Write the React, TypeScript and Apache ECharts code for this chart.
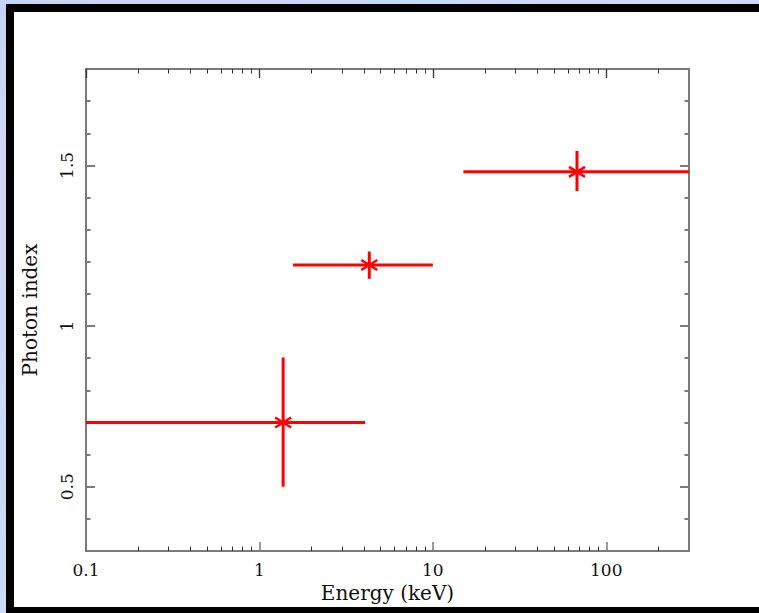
import React, { useEffect, useRef } from "react";
import * as echarts from "echarts";

// ---- data ----
const energy = [1.37, 4.3, 67.8];
const energyLow = [0.1, 1.56, 15];
const energyHigh = [4.07, 10, 300];
const photonIndex = [0.7, 1.19, 1.48];
const indexLow = [0.5, 1.147, 1.42];
const indexHigh = [0.902, 1.232, 1.545];

const xMajorTicks = [0.1, 1, 10, 100];
const xMinorTicks = [0.2, 0.3, 0.4, 0.5, 0.6, 0.7, 0.8, 0.9, 2, 3, 4, 5, 6, 7, 8, 9, 20, 30, 40, 50, 60, 70, 80, 90, 200];
const yMajorTicks = [0.5, 1, 1.5];
const yMinorTicks = [0.4, 0.6, 0.7, 0.8, 0.9, 1.1, 1.2, 1.3, 1.4, 1.6, 1.7];

const FONT = "DejaVu Serif";
const AXIS_COLOR = "#7a7a7a";
const RED = "#ff0000";

export default function App() {
  const ref = useRef<HTMLDivElement>(null);

  useEffect(() => {
    if (!ref.current) return;
    const chart = echarts.init(ref.current, null, { renderer: "svg" });

    const data = energy.map((e, i) => [e, photonIndex[i], energyLow[i], energyHigh[i], indexLow[i], indexHigh[i]]);

    const xBase = {
      type: "log" as const,
      logBase: 10,
      min: 0.1,
      max: 300,
      splitLine: { show: false },
      axisLine: { show: true, lineStyle: { color: AXIS_COLOR, width: 2 } },
    };
    const yBase = {
      type: "value" as const,
      min: 0.3,
      max: 1.8,
      splitLine: { show: false },
      axisLine: { show: true, lineStyle: { color: AXIS_COLOR, width: 2 } },
    };
    const noLabel = { show: false };

    const option: any = {
      animation: false,
      backgroundColor: "transparent",
      grid: { left: 86, top: 69, right: 70, bottom: 62, containLabel: false, outerBoundsMode: "none" },
      xAxis: [
        {
          ...xBase,
          position: "bottom",
          name: "Energy (keV)",
          nameLocation: "middle",
          nameGap: 31,
          nameTextStyle: { fontFamily: FONT, fontSize: 20, color: "#111" },
          axisTick: { show: true, inside: true, length: 9, customValues: xMajorTicks, lineStyle: { color: AXIS_COLOR, width: 1.5 } },
          axisLabel: {
            show: true,
            customValues: xMajorTicks,
            margin: 10,
            fontFamily: FONT,
            fontSize: 17,
            color: "#111",
            formatter: (v: number) => String(Math.round(v * 10) / 10),
          },
        },
        {
          ...xBase,
          position: "bottom",
          axisLine: { show: false },
          axisTick: { show: true, inside: true, length: 4.5, customValues: xMinorTicks, lineStyle: { color: "#333", width: 1 } },
          axisLabel: noLabel,
        },
        {
          ...xBase,
          position: "top",
          axisTick: { show: true, inside: true, length: 9, customValues: xMajorTicks, lineStyle: { color: "#333", width: 1.3 } },
          axisLabel: noLabel,
        },
        {
          ...xBase,
          position: "top",
          axisLine: { show: false },
          axisTick: { show: true, inside: true, length: 4.5, customValues: xMinorTicks, lineStyle: { color: "#333", width: 1 } },
          axisLabel: noLabel,
        },
      ],
      yAxis: [
        {
          ...yBase,
          position: "left",
          name: "Photon index",
          nameLocation: "middle",
          nameGap: 46,
          nameRotate: 90,
          nameTextStyle: { fontFamily: FONT, fontSize: 20, color: "#111" },
          axisTick: { show: true, inside: true, length: 9, customValues: yMajorTicks, lineStyle: { color: AXIS_COLOR, width: 2 } },
          axisLabel: {
            show: true,
            customValues: yMajorTicks,
            rotate: 90,
            margin: 11,
            fontFamily: FONT,
            fontSize: 17,
            color: "#111",
            formatter: (v: number) => String(v),
          },
        },
        {
          ...yBase,
          position: "left",
          axisLine: { show: false },
          axisTick: { show: true, inside: true, length: 4.5, customValues: yMinorTicks, lineStyle: { color: AXIS_COLOR, width: 2 } },
          axisLabel: noLabel,
        },
        {
          ...yBase,
          position: "right",
          axisTick: { show: true, inside: true, length: 9, customValues: yMajorTicks, lineStyle: { color: AXIS_COLOR, width: 2 } },
          axisLabel: noLabel,
        },
        {
          ...yBase,
          position: "right",
          axisLine: { show: false },
          axisTick: { show: true, inside: true, length: 4.5, customValues: yMinorTicks, lineStyle: { color: AXIS_COLOR, width: 2 } },
          axisLabel: noLabel,
        },
      ],
      series: [
        {
          type: "custom",
          xAxisIndex: 0,
          yAxisIndex: 0,
          clip: true,
          encode: { x: [0, 2, 3], y: [1, 4, 5] },
          data,
          renderItem: (params: any, api: any) => {
            const x = api.value(0);
            const y = api.value(1);
            const c = api.coord([x, y]);
            const l = api.coord([api.value(2), y]);
            const r = api.coord([api.value(3), y]);
            const b = api.coord([x, api.value(4)]);
            const t = api.coord([x, api.value(5)]);
            const ls = { stroke: RED, lineWidth: 3 };
            const ms = { stroke: RED, lineWidth: 2.5 };
            const dx = 8;
            const dy = 5;
            return {
              type: "group",
              children: [
                { type: "line", shape: { x1: l[0], y1: l[1], x2: r[0], y2: r[1] }, style: ls },
                { type: "line", shape: { x1: b[0], y1: b[1], x2: t[0], y2: t[1] }, style: ls },
                { type: "line", shape: { x1: c[0] - dx, y1: c[1] - dy, x2: c[0] + dx, y2: c[1] + dy }, style: ms },
                { type: "line", shape: { x1: c[0] - dx, y1: c[1] + dy, x2: c[0] + dx, y2: c[1] - dy }, style: ms },
              ],
            };
          },
        },
      ],
    };

    chart.setOption(option);
    return () => chart.dispose();
  }, []);

  return (
    <div
      style={{
        position: "fixed",
        left: 0,
        top: 0,
        width: 759,
        height: 613,
        overflow: "hidden",
        background:
          "radial-gradient(circle at 20% 30%, #e4d4f0 0%, transparent 40%), radial-gradient(circle at 80% 70%, #d8c8ee 0%, transparent 40%), linear-gradient(135deg, #bcd4f4 0%, #cfdcf6 50%, #b8cef0 100%)",
      }}
    >
      <div
        style={{
          position: "absolute",
          left: 6,
          top: 4,
          width: 759 - 6,
          height: 613 - 4,
          background: "#000",
        }}
      />
      <div
        style={{
          position: "absolute",
          left: 14,
          top: 12,
          width: 759 - 14,
          height: 607 - 12,
          background: "#fff",
        }}
      />
      <div ref={ref} style={{ position: "absolute", left: 0, top: 0, width: 759, height: 613 }} />
    </div>
  );
}
